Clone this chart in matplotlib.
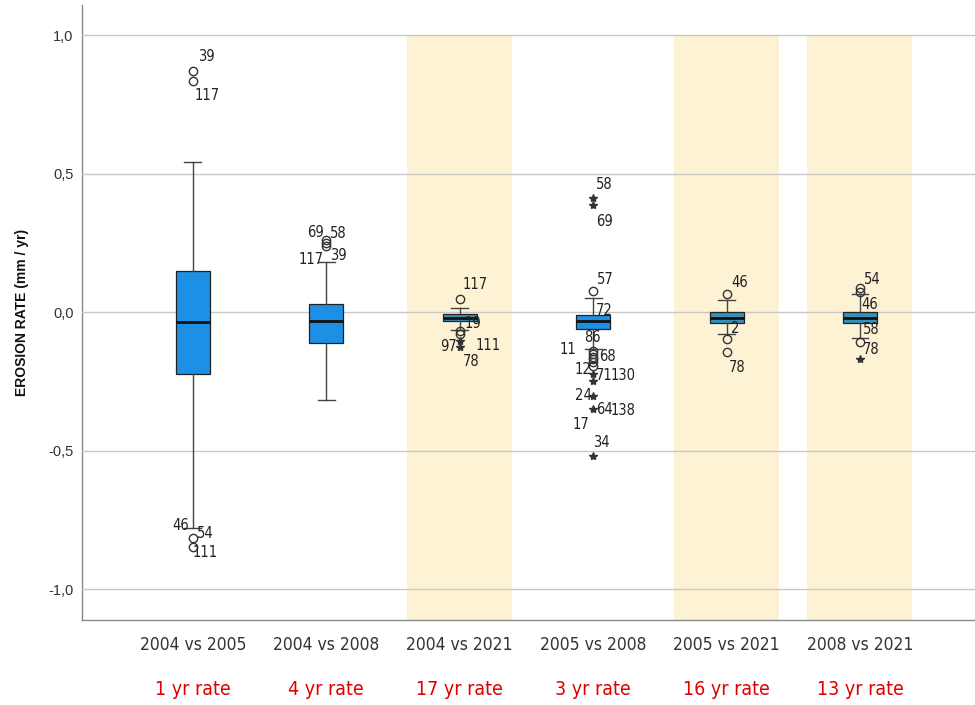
import matplotlib.pyplot as plt
from matplotlib import font_manager
import numpy as np

# Comparison pairs and the time span each rate covers
comparisons = ["2004 vs 2005", "2004 vs 2008", "2004 vs 2021",
               "2005 vs 2008", "2005 vs 2021", "2008 vs 2021"]
rate_labels = ["1 yr rate", "4 yr rate", "17 yr rate",
               "3 yr rate", "16 yr rate", "13 yr rate"]
long_term = [False, False, True, False, True, True]

# Box statistics (mm / yr)
q1 = [-0.223, -0.112, -0.031, -0.061, -0.037, -0.037]
medians = [-0.036, -0.033, -0.020, -0.031, -0.019, -0.019]
q3 = [0.151, 0.029, -0.007, -0.010, 0.001, 0.002]
whisker_lo = [-0.780, -0.317, -0.065, -0.133, -0.077, -0.094]
whisker_hi = [0.543, 0.180, 0.017, 0.053, 0.044, 0.065]

# Outliers (o) and extreme values (*)
outlier_vals = [
    [0.873, 0.834, -0.816, -0.848],
    [0.262, 0.250, 0.240],
    [0.047, -0.068, -0.080],
    [0.077, -0.140, -0.150, -0.160, -0.170, -0.180, -0.195],
    [0.065, -0.097, -0.145],
    [0.089, 0.075, -0.109],
]
extreme_vals = [
    [],
    [],
    [-0.105, -0.125],
    [0.413, 0.389, -0.223, -0.248, -0.302, -0.350, -0.518],
    [],
    [-0.167],
]

# Case numbers printed next to the unusual points, with their height
case_ids = [
    ["39", "117", "46", "54", "111"],
    ["69", "58", "117", "39"],
    ["117", "19", "97", "111", "78"],
    ["58", "69", "57", "72", "86", "11", "68", "12", "71", "130",
     "24", "64", "138", "17", "34"],
    ["46", "2", "78"],
    ["54", "46", "58", "78"],
]
case_y = [
    [0.922, 0.782, -0.771, -0.800, -0.868],
    [0.288, 0.285, 0.191, 0.205],
    [0.101, -0.040, -0.123, -0.119, -0.179],
    [0.461, 0.329, 0.119, 0.008, -0.091, -0.133, -0.161, -0.205, -0.229,
     -0.229, -0.302, -0.350, -0.356, -0.404, -0.470],
    [0.109, -0.059, -0.199],
    [0.119, 0.029, -0.061, -0.133],
]
# horizontal shift of each case number from the box centre (pixels)
case_dx = [
    [13, 14, -12, 12, 12],
    [-11, 12, -15, 12],
    [15, 13, -11, 28, 11],
    [11, 11, 12, 11, -1, -25, 14, -10, 11, 30, -10, 11, 30, -12, 8],
    [13, 9, 11],
    [12, 10, 11, 11],
]

box_blue = "#1d8fe4"
box_teal = "#3690b8"
band_color = "#fdf3d4"

# a condensed face is used for the category and case labels when available
narrow = dict(family="DejaVu Sans", stretch="condensed")
try:
    path = font_manager.findfont(font_manager.FontProperties(**narrow))
    if "Condensed" not in path:
        narrow = dict(family="Liberation Sans")
except Exception:
    narrow = dict(family="Liberation Sans")

fig = plt.figure(figsize=(9.75, 7.05), dpi=100)
ax = fig.add_axes([0.084, 0.121, 0.916, 0.872])

positions = np.arange(len(comparisons))
ymin, ymax = -1.11, 1.11

# shaded columns for the long-term comparisons
for pos, flag in zip(positions, long_term):
    if flag:
        ax.bar(pos, 1.0 - ymin, bottom=ymin, width=0.787,
               color=band_color, zorder=0, linewidth=0)

stats = []
for i in range(len(comparisons)):
    stats.append(dict(med=medians[i], q1=q1[i], q3=q3[i],
                      whislo=whisker_lo[i], whishi=whisker_hi[i], fliers=[]))

bp = ax.bxp(stats, positions=positions, widths=0.255, capwidths=0.127,
            showfliers=False, patch_artist=True,
            boxprops=dict(edgecolor="#222222", linewidth=0.9),
            medianprops=dict(color="#111111", linewidth=2.0),
            whiskerprops=dict(color="#444444", linewidth=1.0),
            capprops=dict(color="#444444", linewidth=1.0),
            zorder=3)
for box, flag in zip(bp["boxes"], long_term):
    box.set_facecolor(box_teal if flag else box_blue)

for i, pos in enumerate(positions):
    if outlier_vals[i]:
        ax.plot([pos] * len(outlier_vals[i]), outlier_vals[i], "o",
                mfc="none", mec="#333333", ms=6, mew=1.0, zorder=4)
    if extreme_vals[i]:
        ax.plot([pos] * len(extreme_vals[i]), extreme_vals[i], "*",
                color="#333333", ms=6, zorder=4)
    for txt, yv, dx in zip(case_ids[i], case_y[i], case_dx[i]):
        ax.annotate(txt, (pos, yv), xytext=(dx * 0.72, 0),
                    textcoords="offset points", ha="center", va="center",
                    fontsize=10.5, color="#222222", zorder=5, **narrow)

ax.set_xlim(-0.832, 5.862)
ax.set_ylim(ymin, ymax)
ax.set_yticks([1.0, 0.5, 0.0, -0.5, -1.0])
ax.set_yticklabels(["1,0", "0,5", "0,0", "-0,5", "-1,0"],
                   family="Liberation Sans", fontsize=10.5, color="#333333")
ax.yaxis.grid(True, color="#c8c8c8", linewidth=1.0, zorder=1)
ax.set_axisbelow(False)
ax.tick_params(axis="both", length=0, pad=6)
ax.set_xticks(positions)
ax.set_xticklabels(comparisons, fontsize=12.5, color="#333333", **narrow)
ax.tick_params(axis="x", pad=12)

for side in ["top", "right"]:
    ax.spines[side].set_visible(False)
for side in ["left", "bottom"]:
    ax.spines[side].set_color("#888888")
    ax.spines[side].set_linewidth(1.0)

ax.set_ylabel("EROSION RATE (mm / yr)", fontsize=10, fontweight="bold",
              family="Liberation Sans", color="#111111", labelpad=14)

# red time-span labels under each comparison
for pos, txt in zip(positions, rate_labels):
    ax.text(pos, -0.114, txt, transform=ax.get_xaxis_transform(),
            ha="center", va="center", fontsize=14, color="#e00000", **narrow)

fig.savefig("out.png", dpi=100)
